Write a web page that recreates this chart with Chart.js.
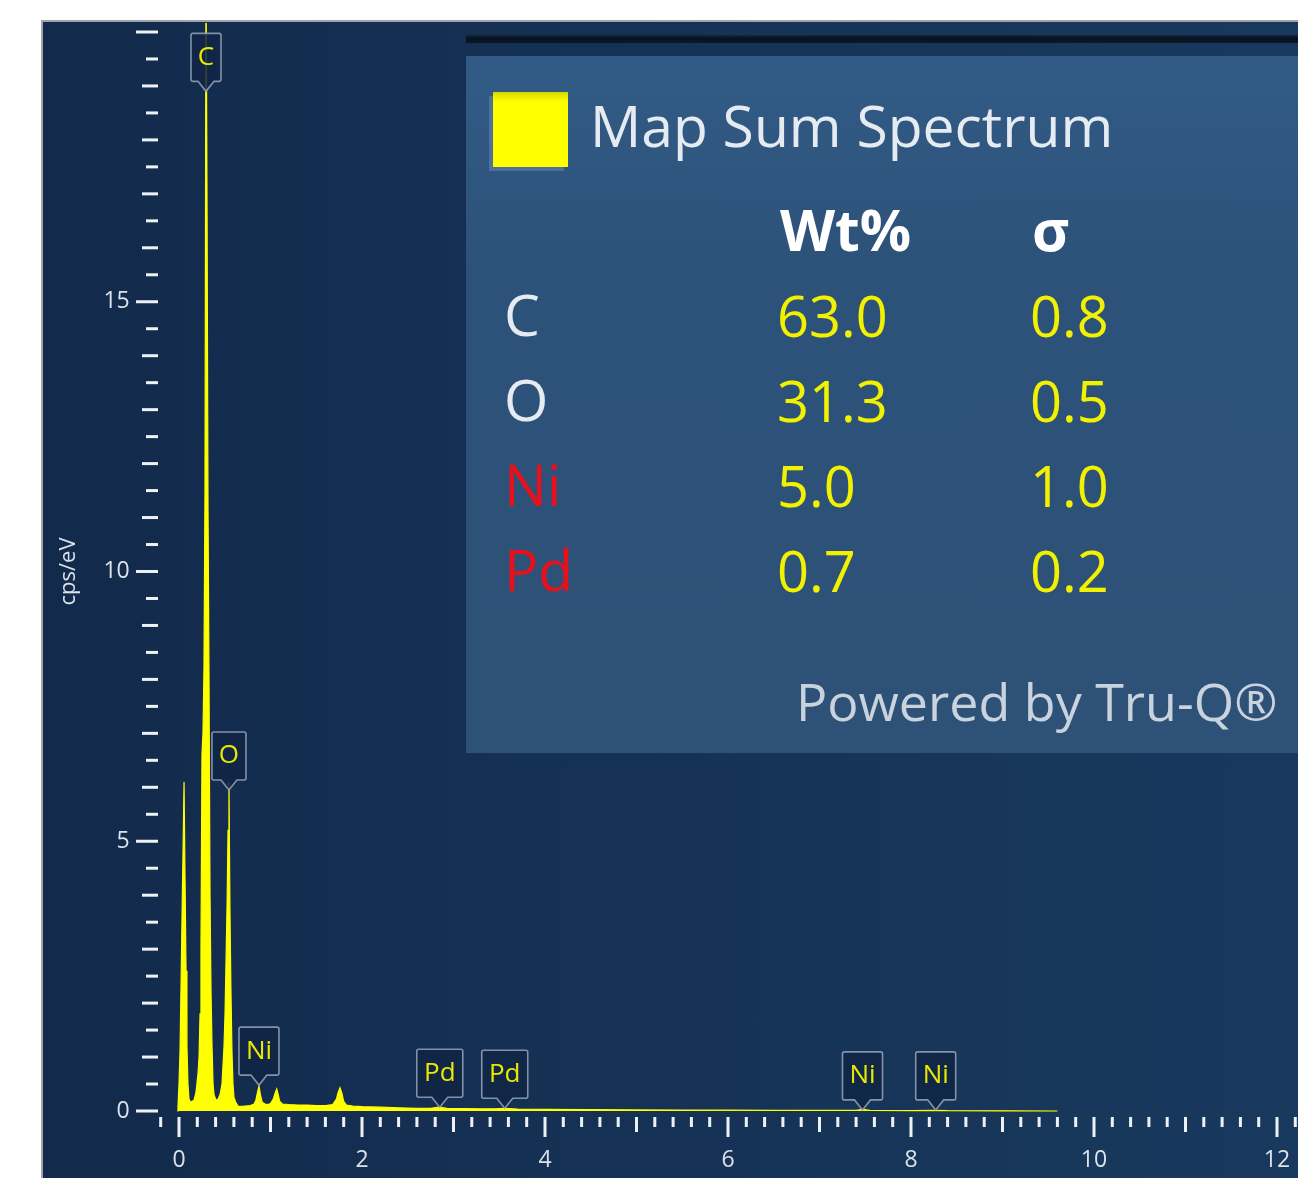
<!DOCTYPE html>
<html>
<head>
<meta charset="utf-8">
<script src="https://cdn.jsdelivr.net/npm/chart.js@4.4.1/dist/chart.umd.min.js"></script>
<style>
  body { margin: 0; background: #ffffff; width: 1298px; height: 1178px; overflow: hidden; position: relative; font-family: "Open Sans", "Noto Sans", sans-serif; }
  #panel { position: absolute; left: 41px; top: 20px; width: 1300px; height: 1200px; background: linear-gradient(to right, #122a4c, #163458 60%, #183a5e); border-left: 2px solid #a0a4a8; border-top: 2px solid #a0a4a8; box-sizing: border-box; }
  #spectrum { position: absolute; left: 0; top: 0; }
  #strip { position: absolute; left: 466px; top: 35px; width: 840px; height: 8px; background: linear-gradient(#15263c, #07121f 40%, #0b1828); }
  #legend { position: absolute; left: 466px; top: 56px; width: 840px; height: 697px; background: linear-gradient(#315b86, #2d5279 30%, #2d5177); }
  #legend div { position: absolute; white-space: nowrap; line-height: 1; }
  .swatch { left: 27px; top: 36px; width: 75px; height: 75px; background: linear-gradient(#d6d600, #f0f000 6px, #ffff00 10px); box-shadow: -4px 4px 0 #50709a; }
  .big { font-size: 57px; color: #e6ebf1; }
  .hdr { font-size: 57px; font-weight: 700; color: #ffffff; }
  .val { font-size: 56px; color: #f2f200; }
  .red { color: #e8101c !important; }
  .powered { font-size: 52px; color: #c9d3de; }
</style>
</head>
<body>
<div id="panel"></div>
<canvas id="spectrum" width="1298" height="1178"></canvas>
<div id="strip"></div>
<div id="legend"></div>
<script>
// Spectrum (energy in keV, intensity in cps/eV)
const energyKeV = [
  -0.02, -0.011, 0.0, 0.011, 0.022, 0.033, 0.044, 0.055, 0.066, 0.077, 0.087, 0.098, 0.109, 0.126, 0.142, 0.164, 0.186,
  0.208, 0.219, 0.23, 0.24, 0.251, 0.262, 0.273, 0.284, 0.295, 0.306, 0.317, 0.328, 0.339, 0.35, 0.361, 0.372, 0.383,
  0.404, 0.426, 0.448, 0.47, 0.492, 0.503, 0.514, 0.525, 0.536, 0.546, 0.557, 0.568, 0.579, 0.59, 0.601, 0.623,
  0.65, 0.72, 0.78, 0.82, 0.84, 0.855, 0.874, 0.89, 0.91, 0.94, 0.97, 1.0, 1.03, 1.05, 1.068, 1.085, 1.1, 1.13,
  1.2, 1.3, 1.4, 1.5, 1.6, 1.68, 1.72, 1.74, 1.76, 1.78, 1.8, 1.83, 1.9, 2.0, 2.2, 2.4, 2.6, 2.75, 2.84, 2.93,
  3.1, 3.3, 3.45, 3.56, 3.7, 4.0, 4.5, 5.0, 5.5, 6.0, 6.5, 7.0, 7.4, 7.47, 7.55, 8.0, 8.26, 8.4, 9.0, 9.6
];
const countsPerEV = [
  0, 0.08, 0.5, 1.1, 2.3, 3.6, 4.8, 6.1, 4.3, 2.6, 1.2, 0.5, 0.22, 0.16, 0.18, 0.2, 0.35,
  0.7, 1.0, 1.8, 3.0, 6.6, 7.0, 8.2, 11.5, 21.5, 17.0, 11.2, 8.0, 4.0, 2.2, 1.2, 0.5, 0.3,
  0.2, 0.22, 0.3, 0.5, 1.2, 1.8, 2.8, 3.8, 5.2, 6.1, 3.7, 2.2, 1.1, 0.5, 0.25, 0.15,
  0.08, 0.09, 0.1, 0.13, 0.2, 0.32, 0.46, 0.3, 0.16, 0.13, 0.12, 0.14, 0.22, 0.33, 0.41, 0.3, 0.18, 0.13,
  0.12, 0.11, 0.11, 0.1, 0.1, 0.12, 0.22, 0.35, 0.43, 0.33, 0.18, 0.11, 0.09, 0.08, 0.07, 0.06, 0.05, 0.05, 0.07, 0.05,
  0.045, 0.04, 0.04, 0.05, 0.035, 0.03, 0.025, 0.02, 0.018, 0.015, 0.013, 0.012, 0.012, 0.03, 0.01, 0.008, 0.012, 0.006, 0.004, 0
];

// Peak identification markers
const peakNames = ['C', 'O', 'Ni', 'Pd', 'Pd', 'Ni', 'Ni'];
const peakEnergies = [0.295, 0.546, 0.874, 2.85, 3.56, 7.47, 8.27];
const peakMarkHeights = [18.9, 5.95, 0.48, 0.07, 0.05, 0.02, 0.02];

// Quantification table
const quantElements = ['C', 'O', 'Ni', 'Pd'];
const quantWt = ['63.0', '31.3', '5.0', '0.7'];
const quantSigma = ['0.8', '0.5', '1.0', '0.2'];
const flaggedElements = ['Ni', 'Pd']; // shown in red
const spectrumName = 'Map Sum Spectrum';

// Axis settings
const xMin = -0.2, xMax = 12.2, xMinorStep = 0.2, xLabelStep = 2;
const yMin = 0, yMax = 20, yMinorStep = 0.5, yLabelStep = 5;

const tickMarks = { // draws the ruler style ticks of both axes
  id: 'tickMarks',
  afterDraw(chart) {
    const { ctx, chartArea, scales: { x, y } } = chart;
    ctx.save();
    ctx.fillStyle = '#eef1f4';
    const ny = Math.round((yMax - yMin) / yMinorStep);
    for (let i = 0; i <= ny; i++) {
      const v = yMin + i * yMinorStep;
      const py = y.getPixelForValue(v);
      let len = 12;
      if (Math.abs(v / yLabelStep - Math.round(v / yLabelStep)) < 1e-6) len = 22;
      else if (Math.abs(v - Math.round(v)) < 1e-6) len = 16;
      ctx.fillRect(chartArea.left - 2.7 - len, py - 1.5, len, 3);
    }
    const nx = Math.round((xMax - xMin) / xMinorStep);
    for (let i = 0; i <= nx; i++) {
      const v = xMin + i * xMinorStep;
      const px = x.getPixelForValue(v);
      let len = 10;
      if (Math.abs(v / xLabelStep - Math.round(v / xLabelStep)) < 1e-6) len = 20;
      else if (Math.abs(v - Math.round(v)) < 1e-6) len = 15;
      ctx.fillRect(px - 1.5, chartArea.bottom + 6, 3, len);
    }
    ctx.restore();
  }
};

const peakLabels = { // element flags pointing at the peaks
  id: 'peakLabels',
  afterDatasetsDraw(chart) {
    const { ctx, scales: { x, y } } = chart;
    ctx.save();
    ctx.font = '26px "Open Sans"';
    ctx.textAlign = 'center';
    ctx.textBaseline = 'middle';
    peakNames.forEach((name, i) => {
      const px = x.getPixelForValue(peakEnergies[i]);
      const py = y.getPixelForValue(peakMarkHeights[i]);
      const w = Math.round(ctx.measureText(name).width + 14);
      const h = 48, pointer = 10;
      const bottom = py - pointer, top = bottom - h;
      const l = px - w / 2, r = px + w / 2;
      ctx.beginPath();
      ctx.moveTo(l + 2, top);
      ctx.lineTo(r - 2, top);
      ctx.quadraticCurveTo(r, top, r, top + 2);
      ctx.lineTo(r, bottom - 2);
      ctx.quadraticCurveTo(r, bottom, r - 2, bottom);
      ctx.lineTo(px + 8, bottom);
      ctx.lineTo(px, py);
      ctx.lineTo(px - 8, bottom);
      ctx.lineTo(l + 2, bottom);
      ctx.quadraticCurveTo(l, bottom, l, bottom - 2);
      ctx.lineTo(l, top + 2);
      ctx.quadraticCurveTo(l, top, l + 2, top);
      ctx.closePath();
      ctx.fillStyle = 'rgba(17, 38, 70, 0.88)';
      ctx.fill();
      ctx.lineWidth = 1.6;
      ctx.strokeStyle = 'rgba(150, 165, 185, 0.85)';
      ctx.stroke();
      ctx.fillStyle = '#e9e900';
      ctx.fillText(name, px, top + h / 2);
    });
    ctx.restore();
  }
};

// invisible tick marks, only used to push the labels away from the plot
const hiddenGrid = (len) => ({ display: true, drawOnChartArea: false, drawTicks: true, tickLength: len, color: 'rgba(0,0,0,0)', tickColor: 'rgba(0,0,0,0)' });

const ctx = document.getElementById('spectrum').getContext('2d');
new Chart(ctx, {
  type: 'scatter',
  data: {
    datasets: [{
      data: energyKeV.map((e, i) => ({ x: e, y: countsPerEV[i] })),
      showLine: true,
      fill: 'origin',
      borderColor: '#ffff00',
      backgroundColor: '#ffff00',
      borderWidth: 1.2,
      pointRadius: 0,
      tension: 0,
      clip: { left: 2, top: 9, right: 0, bottom: 2 }
    }]
  },
  options: {
    responsive: false,
    animation: false,
    layout: { autoPadding: false, padding: { left: 0, top: 32, right: 2.7, bottom: 0 } },
    plugins: { legend: { display: false }, tooltip: { enabled: false } },
    scales: {
      x: {
        type: 'linear',
        min: xMin,
        max: xMax,
        grid: hiddenGrid(36),
        border: { display: false },
        afterFit: (s) => { s.height = 67; s.paddingLeft = 0; s.paddingRight = 0; },
        ticks: {
          stepSize: xLabelStep,
          includeBounds: false,
          padding: 0,
          color: '#dde2e8',
          font: { family: 'Open Sans', size: 23 },
          maxRotation: 0
        }
      },
      y: {
        type: 'linear',
        min: yMin,
        max: yMax,
        grid: hiddenGrid(31),
        border: { display: false },
        afterFit: (s) => { s.width = 160.7; s.paddingTop = 0; s.paddingBottom = 0; },
        title: {
          display: true,
          text: 'cps/eV',
          color: '#dde2e8',
          font: { family: 'Open Sans', size: 22 },
          padding: { top: 56, bottom: 0 }
        },
        ticks: {
          stepSize: yLabelStep,
          includeBounds: false,
          padding: 0,
          color: '#dde2e8',
          font: { family: 'Open Sans', size: 23 },
          callback: (v) => (v >= yMax ? '' : v)
        }
      }
    }
  },
  plugins: [tickMarks, peakLabels]
});

// Legend / quantification box
const legend = document.getElementById('legend');
const addText = (cls, text, left, top) => {
  const d = document.createElement('div');
  d.className = cls;
  d.textContent = text;
  d.style.left = left + 'px';
  d.style.top = top + 'px';
  legend.appendChild(d);
};
const sw = document.createElement('div');
sw.className = 'swatch';
legend.appendChild(sw);
addText('big', spectrumName, 124, 41);
addText('hdr', 'Wt%', 314, 145);
addText('hdr', 'σ', 566, 145);
quantElements.forEach((el, i) => {
  const top = 231 + i * 85;
  addText('big' + (flaggedElements.includes(el) ? ' red' : ''), el, 38, top - 1);
  addText('val', quantWt[i], 311, top);
  addText('val', quantSigma[i], 564, top);
});
addText('powered', 'Powered by Tru-Q®', 330, 619);
</script>
</body>
</html>
